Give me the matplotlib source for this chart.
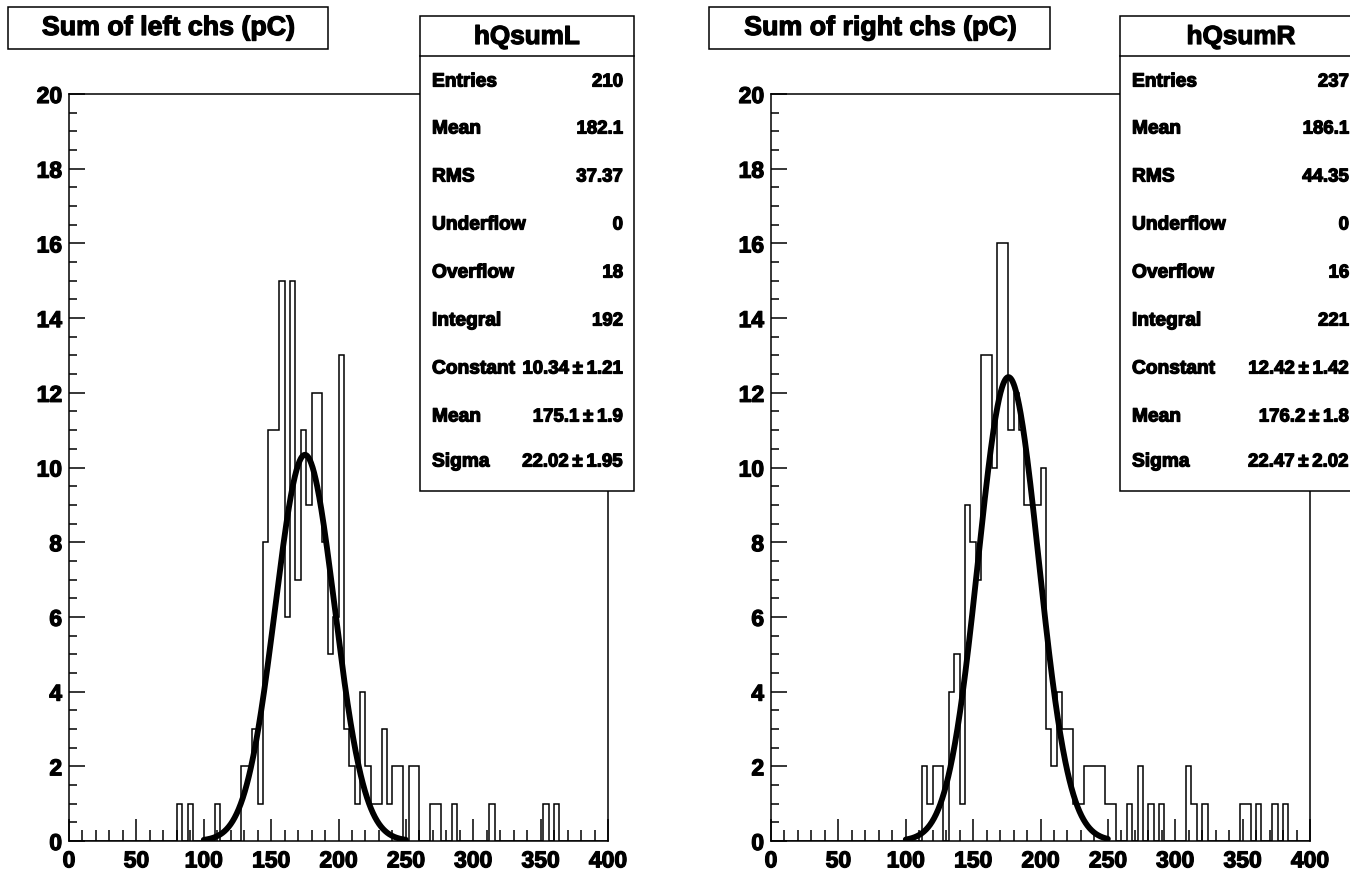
import numpy as np
import matplotlib
matplotlib.use("Agg")
import matplotlib.pyplot as plt
from matplotlib.patches import Rectangle
from matplotlib.ticker import MultipleLocator
import matplotlib.patheffects as pe

# ---------------- data ----------------
bin_width = 4
x_range = (0, 400)

# left histogram: low edges of non-empty bins and their counts
left_bin_lo = [80, 88, 108, 128, 132, 136, 140, 144, 148, 152, 156, 160, 164, 168,
               172, 176, 180, 184, 188, 192, 196, 200, 204, 208, 212, 216, 220, 224,
               228, 232, 236, 240, 244, 252, 256, 268, 272, 284, 312, 352, 360]
left_counts = [1, 1, 1, 2, 2, 3, 1, 8, 11, 11, 15, 6, 15, 7,
               11, 9, 12, 12, 8, 5, 6, 13, 3, 2, 1, 4, 2, 1,
               1, 3, 1, 2, 2, 2, 2, 1, 1, 1, 1, 1, 1]

# right histogram
right_bin_lo = [112, 116, 120, 124, 132, 136, 140, 144, 148, 152, 156, 160, 164, 168,
                172, 176, 180, 184, 188, 192, 196, 200, 204, 208, 212, 216, 220, 224,
                228, 232, 236, 240, 244, 248, 252, 264, 272, 280, 288, 308, 312, 320,
                348, 352, 360, 372, 380]
right_counts = [2, 1, 2, 2, 4, 5, 1, 9, 8, 7, 13, 13, 10, 16,
                16, 11, 12, 11, 9, 9, 9, 10, 3, 2, 4, 3, 3, 1,
                1, 2, 2, 2, 2, 1, 1, 1, 2, 1, 1, 2, 1, 1,
                1, 1, 1, 1, 1]

left_fit = dict(const=10.34, mean=175.1, sigma=22.02)
right_fit = dict(const=12.42, mean=176.2, sigma=22.47)
fit_range = (100, 250)

left_title = "Sum of left chs (pC)"
right_title = "Sum of right chs (pC)"
left_name = "hQsumL"
right_name = "hQsumR"
stat_labels = ["Entries", "Mean", "RMS", "Underflow", "Overflow", "Integral",
               "Constant", "Mean", "Sigma"]
left_stats = ["210", "182.1", "37.37", "0", "18", "192",
              "10.34\u2009\u00b1\u20091.21", "175.1\u2009\u00b1\u20091.9", "22.02\u2009\u00b1\u20091.95"]
right_stats = ["237", "186.1", "44.35", "0", "16", "221",
               "12.42\u2009\u00b1\u20091.42", "176.2\u2009\u00b1\u20091.8", "22.47\u2009\u00b1\u20092.02"]

# ---------------- figure ----------------
W, H = 1350, 879
plt.rcParams['font.family'] = ['Liberation Sans', 'DejaVu Sans']
plt.rcParams['font.weight'] = 'bold'
fig = plt.figure(figsize=(W / 100, H / 100), dpi=100)
fig.patch.set_facecolor('white')

heavy = [pe.withStroke(linewidth=0.9, foreground='black')]


def fx(x):
    return x / W


def fy(y):
    return 1 - y / H


edges = np.arange(x_range[0], x_range[1] + bin_width, bin_width)


def make_counts(lo, cnt):
    full = np.zeros(len(edges) - 1)
    for l, c in zip(lo, cnt):
        full[int((l - x_range[0]) // bin_width)] = c
    return full


def draw_panel(ax_left_px, lo, cnt, fit):
    ax = fig.add_axes([fx(ax_left_px), fy(842), 539 / W, 747 / H])
    vals = make_counts(lo, cnt)
    ax.stairs(vals, edges, baseline=0, color='black', lw=1.1, fill=False)
    xs = np.linspace(fit_range[0], fit_range[1], 400)
    ys = fit['const'] * np.exp(-0.5 * ((xs - fit['mean']) / fit['sigma']) ** 2)
    ax.plot(xs, ys, color='black', lw=4.2, solid_capstyle='round')
    ax.set_xlim(*x_range)
    ax.set_ylim(0, 20)
    ax.xaxis.set_major_locator(MultipleLocator(50))
    ax.xaxis.set_minor_locator(MultipleLocator(10))
    ax.yaxis.set_major_locator(MultipleLocator(2))
    ax.yaxis.set_minor_locator(MultipleLocator(0.5))
    ax.tick_params(axis='x', which='major', direction='in', length=15.5, width=1.1,
                   labelsize=16.5, pad=6, top=False)
    ax.tick_params(axis='x', which='minor', direction='in', length=7.8, width=1.1, top=False)
    ax.tick_params(axis='y', which='major', direction='in', length=11.5, width=1.1,
                   labelsize=16.5, pad=5, right=False)
    ax.tick_params(axis='y', which='minor', direction='in', length=5.8, width=1.1, right=False)
    for lab in ax.get_xticklabels() + ax.get_yticklabels():
        lab.set_fontweight('bold')
        lab.set_path_effects(heavy)
    for s in ax.spines.values():
        s.set_linewidth(1.1)
    return ax


draw_panel(69, left_bin_lo, left_counts, left_fit)
draw_panel(771, right_bin_lo, right_counts, right_fit)


def box(x0, y0, x1, y1, lw=1.1):
    r = Rectangle((fx(x0), fy(y1)), (x1 - x0) / W, (y1 - y0) / H,
                  transform=fig.transFigure, facecolor='white', edgecolor='black',
                  lw=lw, zorder=10, clip_on=False)
    fig.add_artist(r)


def line(x0, y0, x1, y1):
    fig.add_artist(plt.Line2D([fx(x0), fx(x1)], [fy(y0), fy(y1)],
                              transform=fig.transFigure, color='black', lw=1.1, zorder=11))


def text(x, y, s, size, ha='center'):
    fig.text(fx(x), fy(y), s, ha=ha, va='center', fontsize=size, fontweight='bold',
             zorder=12, path_effects=heavy)


# title boxes
box(8, 8, 328, 50)
text(168, 29, left_title, 19.3)
box(709, 8, 1050, 50)
text(880, 29, right_title, 19.3)


def stat_box(x0, x1, val_right, name, values):
    y0, yh, y1 = 17, 57, 492
    box(x0, y0, x1, y1)
    line(x0, yh, x1, yh)
    text((x0 + x1) / 2, (y0 + yh) / 2 + 1, name, 18.8)
    row_y = [83, 130, 178, 226, 274, 322, 370, 418, 463]
    for lab, val, y in zip(stat_labels, values, row_y):
        text(x0 + 12, y, lab, 13.8, ha='left')
        text(val_right, y, val, 13.4, ha='right')


stat_box(420, 634, 623, left_name, left_stats)
stat_box(1120, 1362, 1349, right_name, right_stats)

fig.savefig("out.png", dpi=100, facecolor='white')
